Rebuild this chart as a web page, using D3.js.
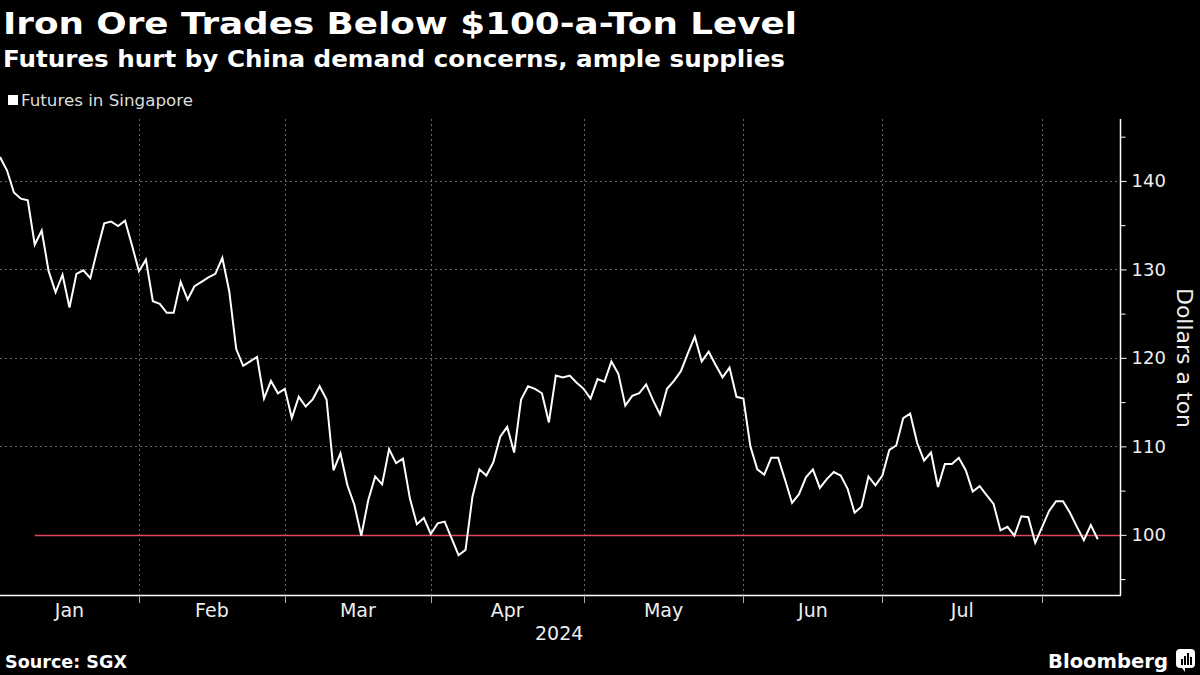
<!DOCTYPE html>
<html>
<head>
<meta charset="utf-8">
<script src="https://cdn.jsdelivr.net/npm/d3@7"></script>
<style>
  html, body { margin: 0; padding: 0; background: #000; }
  svg { display: block; }
  text { font-family: "DejaVu Sans", sans-serif; }
</style>
</head>
<body>
<script>
// iron ore futures, one value per business day from 2024-01-04
var startDate = "2024-01-04";
var prices = [
  142.7, 141.2, 138.7, 138.0, 137.8, 132.8, 134.4, 129.8, 127.4, 129.4,
  125.7, 129.5, 129.9, 129.0, 132.2, 135.2, 135.4, 134.9, 135.5, 132.7,
  129.8, 131.1, 126.4, 126.1, 125.1, 125.1, 128.6, 126.6, 128.1, 128.6,
  129.1, 129.5, 131.3, 127.5, 121.0, 119.1, 119.6, 120.1, 115.4, 117.4,
  116.0, 116.5, 113.2, 115.6, 114.5, 115.3, 116.8, 115.3, 107.3, 109.2,
  105.6, 103.4, 99.9, 103.9, 106.6, 105.7, 109.7, 108.1, 108.6, 104.1,
  101.2, 101.9, 100.1, 101.3, 101.5, 99.6, 97.7, 98.3, 104.3, 107.4,
  106.7, 108.2, 111.1, 112.2, 109.3, 115.3, 116.8, 116.5, 116.0, 112.7,
  118.0, 117.8, 118.0, 117.2, 116.5, 115.4, 117.6, 117.3, 119.6, 118.2,
  114.6, 115.7, 116.0, 117.0, 115.2, 113.6, 116.5, 117.4, 118.5, 120.5,
  122.4, 119.6, 120.7, 119.2, 117.8, 118.9, 115.6, 115.4, 110.0, 107.4,
  106.8, 108.7, 108.7, 106.2, 103.6, 104.6, 106.5, 107.4, 105.3, 106.3,
  107.1, 106.7, 105.2, 102.5, 103.2, 106.6, 105.6, 106.7, 109.6, 110.1,
  113.2, 113.7, 110.4, 108.4, 109.3, 105.4, 108.0, 108.0, 108.7, 107.3,
  104.9, 105.5, 104.5, 103.5, 100.5, 100.9, 99.9, 102.1, 102.0, 99.1,
  100.9, 102.7, 103.8, 103.8, 102.5, 100.9, 99.4, 101.1, 99.5
];
var monthLabels = ["Jan", "Feb", "Mar", "Apr", "May", "Jun", "Jul"];
var yTicks = [100, 110, 120, 130, 140];
var yMinorTicks = [95, 105, 115, 125, 135, 145];
var refLevel = 100;
var refStartIndex = 5;

var width = 1200,
    height = 675;
var plot = { left: 0, right: 1120, top: 119, bottom: 595 };

// business days so the x axis skips weekends like the terminal chart
var parse = d3.timeParse("%Y-%m-%d");
var days = [];
var d = parse(startDate);
while (days.length < prices.length) {
  if (d.getDay() !== 0 && d.getDay() !== 6) days.push(new Date(d));
  d = d3.timeDay.offset(d, 1);
}
var data = prices.map(function (v, i) { return { i: i, date: days[i], value: v }; });

// index of the first business day in each month
var monthStarts = [];
data.forEach(function (p, i) {
  if (i === 0 || p.date.getMonth() !== data[i - 1].date.getMonth()) monthStarts.push(i);
});

var x = d3.scaleLinear().domain([0, 161.2]).range([plot.left, plot.right]);
var y = d3.scaleLinear().domain([93.2, 147]).range([plot.bottom, plot.top]);

var svg = d3.select("body").append("svg")
    .attr("width", width)
    .attr("height", height)
    .style("background", "#000");

// titles
svg.append("text")
    .attr("x", 3).attr("y", 34)
    .attr("fill", "#fff")
    .attr("font-size", 31).attr("font-weight", "bold")
    .attr("textLength", 794).attr("lengthAdjust", "spacingAndGlyphs")
    .text("Iron Ore Trades Below $100-a-Ton Level");
svg.append("text")
    .attr("x", 3).attr("y", 67)
    .attr("fill", "#fff")
    .attr("font-size", 23).attr("font-weight", "bold")
    .attr("textLength", 782).attr("lengthAdjust", "spacingAndGlyphs")
    .text("Futures hurt by China demand concerns, ample supplies");

// legend
svg.append("rect")
    .attr("x", 8).attr("y", 95).attr("width", 10).attr("height", 10)
    .attr("fill", "#fff");
svg.append("text")
    .attr("x", 21).attr("y", 106)
    .attr("fill", "#ddd").attr("font-size", 15)
    .attr("textLength", 172).attr("lengthAdjust", "spacingAndGlyphs")
    .text("Futures in Singapore");

// grid
var grid = svg.append("g")
    .attr("stroke", "#8a8a8a")
    .attr("stroke-width", 1)
    .attr("stroke-dasharray", "2,3")
    .attr("opacity", 0.75);

grid.selectAll(".hgrid")
    .data(yTicks.filter(function (t) { return t !== refLevel; }))
    .enter().append("line")
    .attr("x1", plot.left).attr("x2", plot.right)
    .attr("y1", function (t) { return Math.round(y(t)) + 0.5; })
    .attr("y2", function (t) { return Math.round(y(t)) + 0.5; });

grid.selectAll(".vgrid")
    .data(monthStarts.slice(1))
    .enter().append("line")
    .attr("x1", function (i) { return Math.round(x(i)) + 0.5; })
    .attr("x2", function (i) { return Math.round(x(i)) + 0.5; })
    .attr("y1", plot.top).attr("y2", plot.bottom);

// 100 level
svg.append("line")
    .attr("x1", x(refStartIndex)).attr("x2", plot.right)
    .attr("y1", Math.round(y(refLevel)) + 0.5).attr("y2", Math.round(y(refLevel)) + 0.5)
    .attr("stroke", "#e0485a").attr("stroke-width", 1.3);

// price line
var line = d3.line()
    .x(function (p) { return x(p.i); })
    .y(function (p) { return y(p.value); });

svg.append("path")
    .datum(data)
    .attr("d", line)
    .attr("fill", "none")
    .attr("stroke", "#fff")
    .attr("stroke-width", 2)
    .attr("stroke-linejoin", "miter");

// y axis on the right
var yAxisG = svg.append("g")
    .attr("transform", "translate(" + (plot.right + 0.5) + ",0)")
    .call(d3.axisRight(y).tickValues(yTicks).tickSize(6).tickPadding(5));
yAxisG.append("g")
    .call(d3.axisRight(y).tickValues(yMinorTicks).tickSize(5).tickFormat(""));
yAxisG.selectAll(".domain").remove();
yAxisG.selectAll("line").attr("stroke", "#fff");
yAxisG.selectAll("text")
    .attr("fill", "#eee")
    .attr("font-size", 18)
    .attr("font-family", "DejaVu Sans, sans-serif");
svg.append("line")
    .attr("x1", plot.right + 0.5).attr("x2", plot.right + 0.5)
    .attr("y1", plot.top).attr("y2", plot.bottom)
    .attr("stroke", "#fff").attr("stroke-width", 1.5);

svg.append("text")
    .attr("transform", "translate(1177,358) rotate(90)")
    .attr("text-anchor", "middle")
    .attr("fill", "#eee").attr("font-size", 22)
    .text("Dollars a ton");

// x axis
svg.append("line")
    .attr("x1", plot.left).attr("x2", plot.right + 1)
    .attr("y1", plot.bottom + 0.5).attr("y2", plot.bottom + 0.5)
    .attr("stroke", "#fff").attr("stroke-width", 1.5);

svg.selectAll(".xtick")
    .data(monthStarts.slice(1))
    .enter().append("line")
    .attr("x1", function (i) { return Math.round(x(i)) + 0.5; })
    .attr("x2", function (i) { return Math.round(x(i)) + 0.5; })
    .attr("y1", plot.bottom).attr("y2", plot.bottom + 8)
    .attr("stroke", "#aaa");

svg.selectAll(".xlabel")
    .data(monthLabels)
    .enter().append("text")
    .attr("x", function (m, k) { return x((monthStarts[k] + monthStarts[k + 1]) / 2); })
    .attr("y", 617)
    .attr("text-anchor", "middle")
    .attr("fill", "#eee").attr("font-size", 19)
    .text(function (m) { return m; });

svg.append("text")
    .attr("x", x((monthStarts[3] + monthStarts[4]) / 2) + 52).attr("y", 640)
    .attr("text-anchor", "middle")
    .attr("fill", "#eee").attr("font-size", 19)
    .text(d3.timeFormat("%Y")(data[0].date));

// footer
svg.append("text")
    .attr("x", 5).attr("y", 668)
    .attr("fill", "#fff").attr("font-size", 17).attr("font-weight", "bold")
    .attr("textLength", 122).attr("lengthAdjust", "spacingAndGlyphs")
    .text("Source: SGX");

svg.append("text")
    .attr("x", 1168).attr("y", 668)
    .attr("text-anchor", "end")
    .attr("fill", "#fff").attr("font-size", 20).attr("font-weight", "bold")
    .attr("textLength", 120).attr("lengthAdjust", "spacingAndGlyphs")
    .text("Bloomberg");

var logo = svg.append("g").attr("transform", "translate(1176,649)");
logo.append("rect")
    .attr("width", 19).attr("height", 19).attr("rx", 4)
    .attr("fill", "#fff");
logo.append("path")
    .attr("d", "M6,19 L9,23 L9,19 Z")
    .attr("fill", "#fff");
[[5, 10, 6], [8, 7, 9], [11, 4, 12], [14, 8, 8]].forEach(function (b) {
  logo.append("rect")
      .attr("x", b[0]).attr("y", b[1]).attr("width", 2).attr("height", b[2])
      .attr("fill", "#000");
});
</script>
</body>
</html>
